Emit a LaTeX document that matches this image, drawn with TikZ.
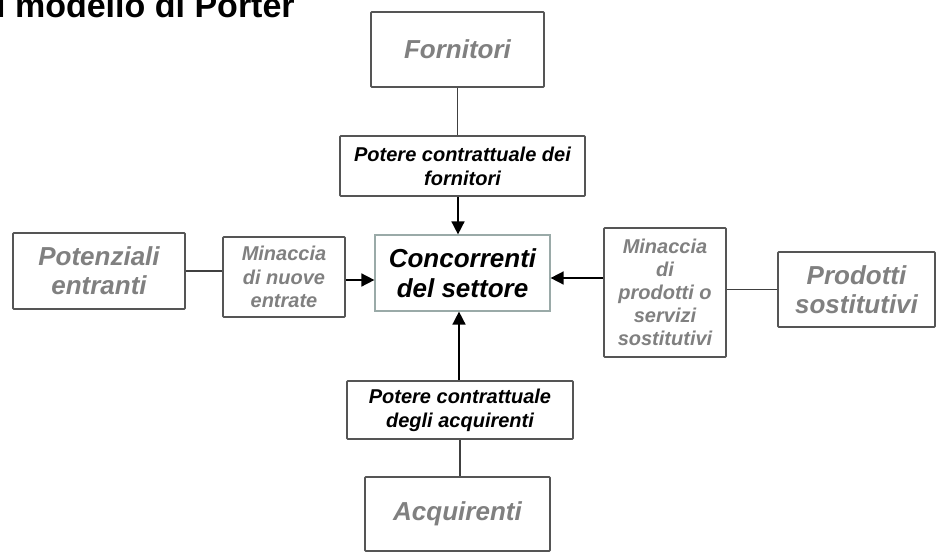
\documentclass[tikz,border=0pt]{standalone}
\usepackage{fontspec}
\setmainfont{Liberation Sans}
\usetikzlibrary{arrows.meta}
\definecolor{txtgray}{HTML}{808080}
\definecolor{boxgray}{HTML}{555555}
\definecolor{linegray}{HTML}{404040}
\definecolor{concedge}{HTML}{9AAAA8}
\begin{document}
\begin{tikzpicture}[x=1pt,y=-1pt,
  outerbox/.style={draw=boxgray,line width=1.8pt,rounded corners=0.8pt,inner sep=0pt,align=center,
    text=txtgray,font=\fontsize{26}{29}\selectfont\bfseries\itshape},
  forcebox/.style={draw=boxgray,line width=1.6pt,rounded corners=0.8pt,inner sep=0pt,align=center,
    text=black,font=\fontsize{20}{24}\selectfont\bfseries\itshape},
  threatbox/.style={draw=boxgray,line width=1.6pt,rounded corners=0.8pt,inner sep=0pt,align=center,
    text=txtgray,font=\fontsize{20}{23}\selectfont\bfseries\itshape},
  conn/.style={draw=linegray,line width=1.6pt},
  arr/.style={conn,-{Triangle[length=13pt,width=13pt]},draw=black}]
\useasboundingbox (0,0) rectangle (941,552);
\clip (0,0) rectangle (941,552);
\fill[white] (0,0) rectangle (941,552);
\node[anchor=base west,inner sep=0pt,font=\fontsize{34}{38}\selectfont\bfseries] (title) at (-4,17) {l modello di Porter};
\node[outerbox,minimum width=173pt,minimum height=75pt] (forn) at (457.5,49.5) {Fornitori};
\node[forcebox,minimum width=245pt,minimum height=60pt] (pf) at (462.5,166) {Potere contrattuale dei\\fornitori};
\node[draw=concedge,line width=1.2pt,inner sep=0pt,align=center,text=black,
  font=\fontsize{26}{30}\selectfont\bfseries\itshape,minimum width=175pt,minimum height=76pt] (conc) at (462.5,273) {Concorrenti\\del settore};
\node[outerbox,minimum width=172pt,minimum height=76pt] (pot) at (99,271) {Potenziali\\entranti};
\node[threatbox,minimum width=122pt,minimum height=80pt,font=\fontsize{20}{23.5}\selectfont\bfseries\itshape] (mn) at (284,277) {Minaccia\\di nuove\\entrate};
\node[threatbox,minimum width=122pt,minimum height=129pt] (ms) at (665,292.5) {Minaccia\\di\\prodotti o\\servizi\\sostitutivi};
\node[outerbox,minimum width=157pt,minimum height=75pt] (prod) at (856.5,289.5) {Prodotti\\sostitutivi};
\node[forcebox,minimum width=226pt,minimum height=58pt] (pa) at (460,410) {Potere contrattuale\\degli acquirenti};
\node[outerbox,minimum width=185pt,minimum height=74pt] (acq) at (457.5,514) {Acquirenti};
\coordinate (vx) at (458,0);
\draw[conn] (forn.south) -- (forn.south |- pf.north);
\draw[arr] (vx |- pf.south) -- (vx |- conc.north);
\draw[arr] ([xshift=1pt]vx |- pa.north) -- ([xshift=1pt]vx |- conc.south);
\draw[conn] ([xshift=2pt]vx |- pa.south) -- ([xshift=2pt]vx |- acq.north);
\draw[conn] (pot.east) -- (pot.east -| mn.west);
\draw[arr] ([yshift=-3pt]mn.east) -- ([yshift=-3pt]mn.east -| conc.west);
\draw[arr] ([yshift=14.5pt]ms.west) -- ([yshift=14.5pt]ms.west -| conc.east);
\draw[conn] (prod.west -| ms.east) -- (prod.west);
\end{tikzpicture}
\end{document}
